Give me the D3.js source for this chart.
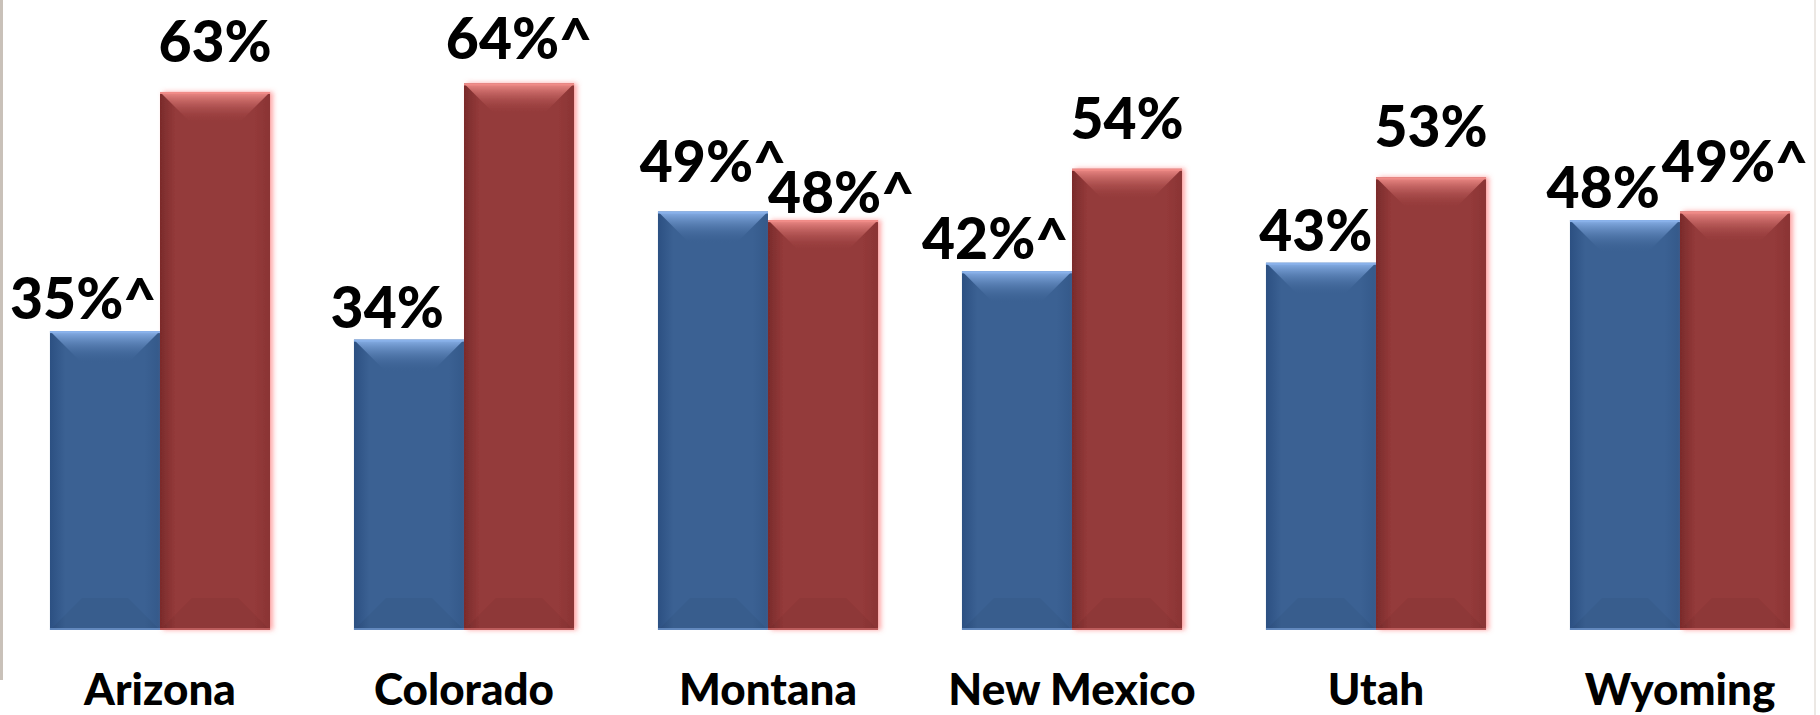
<!DOCTYPE html>
<html><head><meta charset="utf-8">
<script src="https://cdn.jsdelivr.net/npm/d3@7"></script>
<style>html,body{margin:0;padding:0;background:#fff;overflow:hidden}</style>
</head><body><svg id="chart" width="1820" height="715"></svg>
<script>
const categories = ["Arizona", "Colorado", "Montana", "New Mexico", "Utah", "Wyoming"];
const seriesKeys = ["blue", "red"];
const blueValues = [35, 34, 49, 42, 43, 48];
const redValues = [63, 64, 48, 54, 53, 49];
const blueLabels = ["35%^", "34%", "49%^", "42%^", "43%", "48%"];
const redLabels = ["63%", "64%^", "48%^", "54%", "53%", "49%^"];

const W = 1820, H = 715;
const svg = d3.select("#chart");
const FONT = "Lato, 'Open Sans', 'DejaVu Sans', sans-serif";
const WEIGHT = 900;
const LABEL_SIZE = 57;

const palette = {
  blue: {dark: "#2c5082", body: "#3b6193", edge: "#34598a", light: "#8ab2ea", bottom: "#6d93c9"},
  red:  {dark: "#7a2b2b", body: "#943a3a", edge: "#8a3434", light: "#f08c88", bottom: "#c76565"}
};

const x = d3.scaleBand().domain(categories).range([8, 1832]).paddingInner(0.276).paddingOuter(0.138);
const xs = d3.scaleBand().domain(seriesKeys).range([0, x.bandwidth()]);
const y = d3.scaleLinear().domain([0, 70]).range([630, 32.2]);

const data = categories.map((c, i) => ({
  cat: c,
  bars: [
    {key: "blue", value: blueValues[i], label: blueLabels[i]},
    {key: "red", value: redValues[i], label: redLabels[i]}
  ]
}));

const defs = svg.append("defs");
seriesKeys.forEach(k => {
  const p = palette[k];
  const hg = defs.append("linearGradient").attr("id", "body-" + k).attr("x1", 0).attr("x2", 1).attr("y1", 0).attr("y2", 0);
  hg.append("stop").attr("offset", 0).attr("stop-color", p.dark);
  hg.append("stop").attr("offset", 0.14).attr("stop-color", p.body);
  hg.append("stop").attr("offset", 0.86).attr("stop-color", p.body);
  hg.append("stop").attr("offset", 1).attr("stop-color", p.edge);
  const tg = defs.append("linearGradient").attr("id", "top-" + k).attr("x1", 0).attr("x2", 0).attr("y1", 0).attr("y2", 1);
  tg.append("stop").attr("offset", 0).attr("stop-color", p.light).attr("stop-opacity", 1);
  tg.append("stop").attr("offset", 1).attr("stop-color", p.body).attr("stop-opacity", 0.0);
});
const glow = defs.append("filter").attr("id", "glow").attr("x", "-20%").attr("y", "-5%").attr("width", "140%").attr("height", "110%");
glow.append("feDropShadow").attr("dx", 3).attr("dy", 0).attr("stdDeviation", 2.5)
  .attr("flood-color", "#ff6060").attr("flood-opacity", 0.55);

svg.append("line").attr("x1", 1.5).attr("x2", 1.5).attr("y1", 0).attr("y2", 680)
  .attr("stroke", "#c9c1b9").attr("stroke-width", 3);
svg.append("line").attr("x1", 1815).attr("x2", 1815).attr("y1", 0).attr("y2", H)
  .attr("stroke", "#ece8e4").attr("stroke-width", 2);

const groups = svg.append("g").selectAll("g.grp").data(data).join("g")
  .attr("class", "grp").attr("transform", d => `translate(${x(d.cat)},0)`);

function drawBar(sel, b) {
  const x0 = xs(b.key), x1 = x0 + xs.bandwidth();
  const top = y(b.value), bot = y(0);
  const w = x1 - x0, h = bot - top;
  const bv = Math.min(32, w / 2, h / 2);
  const g = sel.append("g");
  if (b.key === "red") g.attr("filter", "url(#glow)");
  g.append("rect").attr("x", x0).attr("y", top).attr("width", w).attr("height", h)
    .attr("fill", `url(#body-${b.key})`);
  g.append("polygon")
    .attr("points", [[x0, bot], [x1, bot], [x1 - bv, bot - bv], [x0 + bv, bot - bv]].map(p => p.join(",")).join(" "))
    .attr("fill", "#000").attr("fill-opacity", 0.04);
  g.append("polygon")
    .attr("points", [[x0, top], [x1, top], [x1 - bv, top + bv], [x0 + bv, top + bv]].map(p => p.join(",")).join(" "))
    .attr("fill", `url(#top-${b.key})`);
  g.append("rect").attr("x", x0).attr("y", top).attr("width", w).attr("height", 2)
    .attr("fill", palette[b.key].light);
  g.append("rect").attr("x", x0).attr("y", bot - 2).attr("width", w).attr("height", 2)
    .attr("fill", palette[b.key].bottom).attr("fill-opacity", 0.8);
}

groups.each(function(d) {
  const g = d3.select(this);
  d.bars.forEach(b => drawBar(g, b));
});

const minBaseline = LABEL_SIZE + 2;
const labelLayer = svg.append("g");
data.forEach(d => {
  const gx = x(d.cat);
  const bb = d.bars[0], rb = d.bars[1];
  const bt = labelLayer.append("text").text(bb.label)
    .attr("font-family", FONT).attr("font-weight", WEIGHT).attr("font-size", LABEL_SIZE).attr("fill", "#000");
  const rt = labelLayer.append("text").text(rb.label)
    .attr("font-family", FONT).attr("font-weight", WEIGHT).attr("font-size", LABEL_SIZE).attr("fill", "#000");
  const wr = rt.node().getComputedTextLength();
  const bRightBar = gx + xs("blue") + xs.bandwidth();
  const rLeftBar = gx + xs("red");
  const rCenter = rLeftBar + xs.bandwidth() / 2;
  let bx = bRightBar - 3, banchor = "end", by = y(bb.value) - 30;
  let rx = rCenter, ranchor = "middle", ry = y(rb.value) - 30;
  const rLeft = rCenter - wr / 2;
  if (bx > rLeft - 2) {
    if (rb.value < bb.value) {
      bx = gx + xs("blue") + xs.bandwidth() / 2; banchor = "middle";
      rx = rLeftBar; ranchor = "start"; ry = y(rb.value) - 7;
    } else {
      bx = rLeft - 2; by = y(bb.value) - 12;
    }
  }
  bt.attr("x", bx).attr("y", Math.max(by, minBaseline)).attr("text-anchor", banchor);
  rt.attr("x", rx).attr("y", Math.max(ry, minBaseline)).attr("text-anchor", ranchor);
});

svg.append("g").selectAll("text").data(categories).join("text")
  .attr("x", c => x(c) + x.bandwidth() / 2).attr("y", 705)
  .attr("text-anchor", "middle")
  .attr("font-family", FONT).attr("font-weight", WEIGHT).attr("font-size", 44).attr("fill", "#000")
  .text(c => c);
</script>
</body></html>
